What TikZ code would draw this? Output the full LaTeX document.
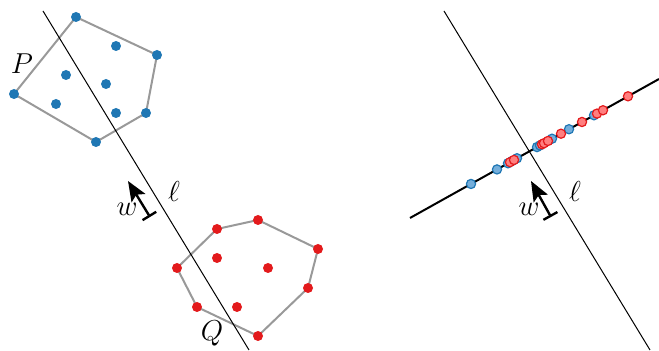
\documentclass[tikz,border=0pt]{standalone}
\usepackage{tikz}
\usetikzlibrary{arrows.meta, calc}
\definecolor{ptblue}{HTML}{1F77B4}
\definecolor{ptred}{HTML}{E31A1C}
\definecolor{projblue}{HTML}{74AEDB}
\definecolor{projred}{HTML}{FF7F7F}

\begin{document}
\begin{tikzpicture}[
    x=0.5pt, y=-0.5pt,
    hull/.style={draw=black!40, line width=1pt, line join=round},
    sepline/.style={draw=black, line width=0.5pt},
    projline/.style={draw=black, line width=1pt},
    bluedot/.style={fill=ptblue},
    reddot/.style={fill=ptred},
    blueproj/.style={draw=ptblue, fill=projblue, line width=0.6pt},
    redproj/.style={draw=ptred, fill=projred, line width=0.6pt},
    wvec/.style={{Bar[width=8pt]}-{Stealth[length=10pt, width=8pt, inset=2pt]}, line width=1.2pt},
    lbl/.style={font=\Large, inner sep=0pt}
]
    \useasboundingbox (0,0) rectangle (659,351);

    % left panel: the two point sets
    \coordinate (P1) at (76,17);
    \coordinate (P2) at (157,55);
    \coordinate (P3) at (146,113);
    \coordinate (P4) at (96,142);
    \coordinate (P5) at (14,94);
    \coordinate (Q1) at (217,229);
    \coordinate (Q2) at (258,220);
    \coordinate (Q3) at (318,249);
    \coordinate (Q4) at (308,288);
    \coordinate (Q5) at (258,336);
    \coordinate (Q6) at (197,307);
    \coordinate (Q7) at (177,268);

    \draw [hull] (P1) -- (P2) -- (P3) -- (P4) -- (P5) -- cycle;
    \draw [hull] (Q1) -- (Q2) -- (Q3) -- (Q4) -- (Q5) -- (Q6) -- (Q7) -- cycle;

    \coordinate (l1top) at (43,11);
    \coordinate (l1bot) at (249,350);
    \draw [sepline] (l1top) -- (l1bot);

    \foreach \p in {P1,P2,P3,P4,P5}
        \fill [bluedot] (\p) circle (5);
    \foreach \p in {(116,46),(66,75),(106,84),(56,104),(116,113)}
        \fill [bluedot] \p circle (5);
    \foreach \p in {Q1,Q2,Q3,Q4,Q5,Q6,Q7}
        \fill [reddot] (\p) circle (5);
    \foreach \p in {(217,258),(268,268),(237,307)}
        \fill [reddot] \p circle (5);

    \node (labP) [lbl] at (22,64) {$P$};
    \node (labQ) [lbl] at (212,333) {$Q$};
    \node (ell1) [lbl] at (174,192) {$\ell$};
    \node (w1) [lbl] at (127,209) {$w$};
    \coordinate (w1tail) at (150,217);
    \coordinate (w1tip) at (128,181);
    \draw [wvec] (w1tail) -- (w1tip);

    % right panel: projections onto the line
    \coordinate (l2top) at (444,11);
    \coordinate (l2bot) at (650,350);
    \draw [sepline] (l2top) -- (l2bot);

    \coordinate (projA) at (410,218);
    \coordinate (projB) at (659,79);
    \draw [projline] (projA) -- (projB);

    \foreach \x in {471,497,508,512,517,537,540,552,569,594}
        \filldraw [blueproj] ($(projA)!{(\x-410)/249}!(projB)$) circle (4.6);
    \foreach \x in {510,514,542,544,548,561,582,597,603,628}
        \filldraw [redproj] ($(projA)!{(\x-410)/249}!(projB)$) circle (4.6);

    \node (ell2) [lbl] at (575,192) {$\ell$};
    \node (w2) [lbl] at (529,209) {$w$};
    \coordinate (w2tail) at (551,217);
    \coordinate (w2tip) at (531,181);
    \draw [wvec] (w2tail) -- (w2tip);
\end{tikzpicture}
\end{document}
